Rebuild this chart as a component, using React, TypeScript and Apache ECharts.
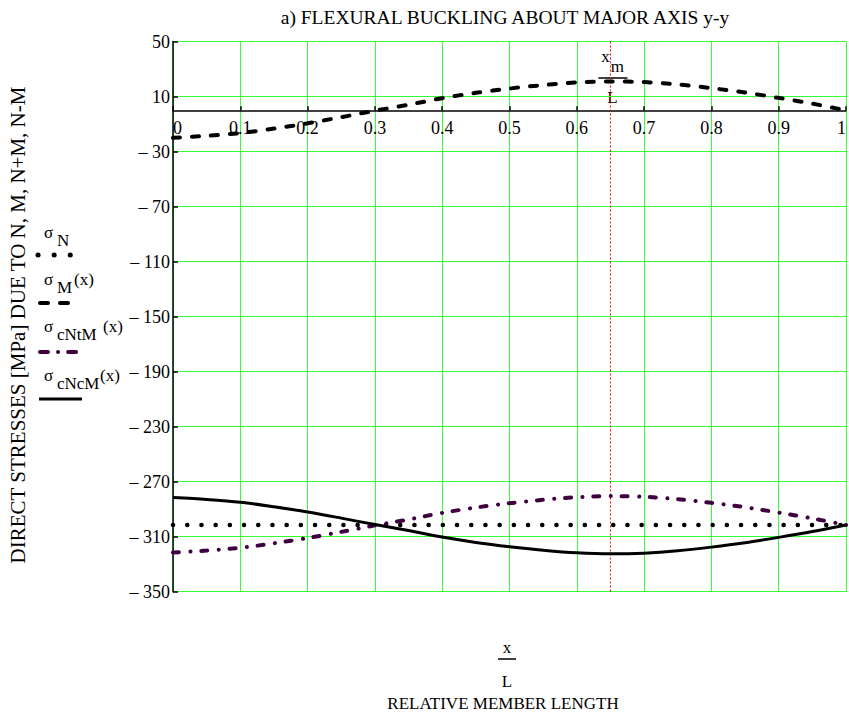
import React, { useEffect, useRef } from 'react';
import * as echarts from 'echarts';

// ---- data ----
const xValues = [0, 0.05, 0.1, 0.15, 0.2, 0.25, 0.3, 0.35, 0.4, 0.45, 0.5, 0.55, 0.6, 0.65, 0.7, 0.75, 0.8, 0.85, 0.9, 0.95, 1];
const sigmaN = -301.5;
const sigmaM = [-20, -18.6, -16.6, -13.3, -9.5, -5, -0.3, 4, 8.8, 12.7, 15.8, 18.3, 20.2, 21, 20.5, 18.8, 16.1, 12.9, 9, 4.8, 0];
const sigmaCNtM = [-321.5, -320.1, -318.1, -314.8, -311, -306.5, -301.8, -297.5, -292.7, -288.8, -285.7, -283.2, -281.3, -280.5, -281, -282.7, -285.4, -288.6, -292.5, -296.7, -301.5];
const sigmaCNcM = [-281.5, -282.9, -284.9, -288.2, -292, -296.5, -301.2, -305.5, -310.3, -314.2, -317.3, -319.8, -321.7, -322.5, -322, -320.3, -317.6, -314.4, -310.5, -306.3, -301.5];
const xmOverL = 0.65;

const xMin = 0;
const xMax = 1;
const xStep = 0.1;
const yMin = -350;
const yMax = 50;
const yStep = 40;

const titleText = 'a) FLEXURAL BUCKLING ABOUT MAJOR AXIS y-y';
const yAxisTitle = 'DIRECT STRESSES [MPa] DUE TO N, M, N+M, N-M';
const xAxisTitle = 'RELATIVE MEMBER LENGTH';

const FONT = 'Liberation Serif';
const PURPLE = '#400040';
const GREEN = '#33ff33';

export default function App() {
  const ref = useRef<HTMLDivElement>(null);

  useEffect(() => {
    if (!ref.current) return;
    const chart = echarts.init(ref.current, undefined, { renderer: 'svg' });

    const txt = (x: number, y: number, text: string, size: number, align: string = 'left', extra: any = {}) => ({
      type: 'text',
      x,
      y,
      silent: true,
      ...extra,
      style: {
        text,
        fill: '#000',
        fontFamily: FONT,
        fontSize: size,
        align,
        verticalAlign: 'middle',
      },
    });

    const legendLabel = (y: number, sub: string, subW: number, withX: boolean) => {
      const els: any[] = [txt(44, y, 'σ', 17), txt(57, y + 8, sub, 17)];
      if (withX) els.push(txt(57 + subW, y, '(x)', 17));
      return els;
    };

    const legendGraphics: any[] = [
      ...legendLabel(232, 'N', 11, false),
      { type: 'line', silent: true, shape: { x1: 38, y1: 255, x2: 71, y2: 255 }, style: { stroke: '#000', lineWidth: 5, lineCap: 'round', lineDash: [0.1, 16] } },
      ...legendLabel(279, 'M', 17, true),
      { type: 'line', silent: true, shape: { x1: 40, y1: 303, x2: 80, y2: 303 }, style: { stroke: '#000', lineWidth: 4, lineCap: 'round', lineDash: [8, 12] } },
      ...legendLabel(326, 'cNtM', 46, true),
      { type: 'line', silent: true, shape: { x1: 40, y1: 352, x2: 78, y2: 352 }, style: { stroke: PURPLE, lineWidth: 4, lineCap: 'round', lineDash: [8, 10, 0.1, 10] } },
      ...legendLabel(375, 'cNcM', 43, true),
      { type: 'line', silent: true, shape: { x1: 39, y1: 399, x2: 82, y2: 399 }, style: { stroke: '#000', lineWidth: 3 } },
    ];

    const baseGraphics: any[] = [
      txt(505, 17, titleText, 19.5, 'center'),
      txt(18, 325, yAxisTitle, 21, 'center', { rotation: Math.PI / 2 }),
      txt(507, 647, 'x', 17, 'center'),
      { type: 'line', silent: true, shape: { x1: 498, y1: 659, x2: 516, y2: 659 }, style: { stroke: '#000', lineWidth: 1.5 } },
      txt(507, 681, 'L', 17, 'center'),
      txt(503, 703, xAxisTitle, 17, 'center'),
      ...legendGraphics,
    ];

    const pair = (ys: number[]) => xValues.map((x, i) => [x, ys[i]]);

    const option: any = {
      animation: false,
      backgroundColor: '#fff',
      grid: { left: 173, right: 3, top: 41.5, bottom: 122.3, containLabel: false, outerBoundsMode: 'none' },
      xAxis: {
        type: 'value',
        position: 'bottom',
        min: xMin,
        max: xMax,
        interval: xStep,
        offset: 0,
        axisLine: { onZero: false, lineStyle: { color: '#000', width: 1.5 } },
        axisTick: { show: true, inside: true, length: 4, lineStyle: { color: '#000', width: 1.5 } },
        axisLabel: {
          color: '#000',
          fontFamily: FONT,
          fontSize: 18,
          margin: 9,
          showMinLabel: true,
          showMaxLabel: true,
          alignMinLabel: 'left',
          alignMaxLabel: 'right',
          formatter: (v: number) => (Math.abs(v) < 1e-9 ? '0' : Math.abs(v - 1) < 1e-9 ? '1' : v.toFixed(1)),
        },
        splitLine: { show: true, lineStyle: { color: GREEN, width: 1 } },
      },
      yAxis: {
        type: 'value',
        min: yMin,
        max: yMax,
        interval: yStep,
        axisLine: { show: true, onZero: false, lineStyle: { color: '#000', width: 1.5 } },
        axisTick: { show: true, inside: true, length: 5, lineStyle: { color: '#000', width: 1.5 } },
        axisLabel: {
          color: '#000',
          fontFamily: FONT,
          fontSize: 18,
          margin: 3,
          formatter: (v: number) => (v < 0 ? '\u2013 ' + Math.abs(v) : String(v)),
        },
        splitLine: { show: true, lineStyle: { color: GREEN, width: 1 } },
      },
      series: [
        {
          name: 'σN',
          type: 'line',
          data: [[xMin, sigmaN], [xMax, sigmaN]],
          showSymbol: false,
          lineStyle: { color: '#000', width: 4.5, type: [0.1, 14.1], cap: 'round' },
          z: 3,
        },
        {
          name: 'σM(x)',
          type: 'line',
          data: pair(sigmaM),
          showSymbol: false,
          smooth: 0.3,
          lineStyle: { color: '#000', width: 4, type: [7, 12], cap: 'round' },
          z: 3,
        },
        {
          name: 'σcNtM(x)',
          type: 'line',
          data: pair(sigmaCNtM),
          showSymbol: false,
          smooth: 0.3,
          lineStyle: { color: PURPLE, width: 4, type: [6, 11.5, 0.1, 10.7], cap: 'round' },
          z: 3,
        },
        {
          name: 'σcNcM(x)',
          type: 'line',
          data: pair(sigmaCNcM),
          showSymbol: false,
          smooth: 0.3,
          lineStyle: { color: '#000', width: 3 },
          z: 3,
        },
        {
          name: 'xm/L',
          type: 'line',
          data: [[xmOverL, yMax], [xmOverL, yMin]],
          showSymbol: false,
          lineStyle: { color: '#ff0000', width: 1, type: [2, 2] },
          z: 2,
        },
      ],
      graphic: baseGraphics,
    };

    chart.setOption(option);

    const pTop = chart.convertToPixel({ gridIndex: 0 }, [xmOverL, 0]) as number[];
    const pBottom = chart.convertToPixel({ gridIndex: 0 }, [xmOverL, yMin]) as number[];
    const xmX = pTop[0];
    chart.setOption({
      xAxis: { offset: -(pBottom[1] - pTop[1]) },
      graphic: [
        ...baseGraphics,
        txt(xmX - 5, 56, 'x', 17, 'center'),
        txt(xmX + 7, 66, 'm', 17, 'center'),
        { type: 'line', silent: true, shape: { x1: xmX - 12, y1: 78, x2: xmX + 17, y2: 78 }, style: { stroke: '#000', lineWidth: 1.5 } },
        txt(xmX + 2, 97, 'L', 17, 'center'),
      ],
    });

    return () => chart.dispose();
  }, []);

  return <div ref={ref} style={{ position: 'fixed', left: 0, top: 0, width: 849, height: 714, background: '#fff' }} />;
}
